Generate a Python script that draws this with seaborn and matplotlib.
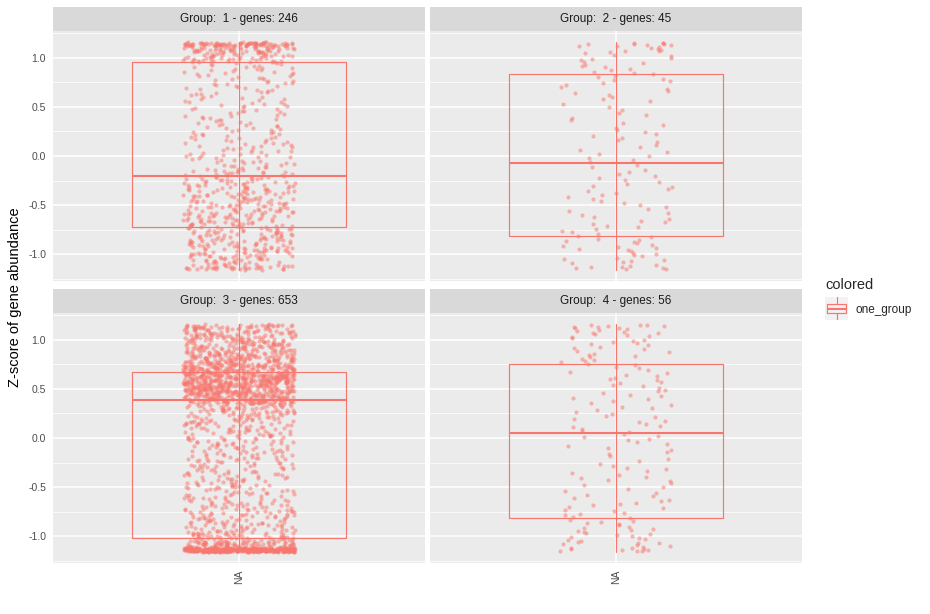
import numpy as np
import pandas as pd
import seaborn as sns
import matplotlib.pyplot as plt

# z-score bins (3 samples per gene, so values stop at +/-1.155)
bin_edges = [-1.155, -1.12, -1.05, -0.95, -0.85, -0.75, -0.65, -0.55, -0.45, -0.35,
             -0.25, -0.15, -0.05, 0.05, 0.15, 0.25, 0.35, 0.45, 0.55, 0.65, 0.75,
             0.85, 0.95, 1.05, 1.12, 1.155]

# points per bin, bottom to top
counts_g1 = [30, 25, 42, 42, 40, 40, 40, 38, 36, 34, 28, 20, 18, 17, 16, 15, 14, 14, 14, 15, 16, 18, 50, 56, 80]
counts_g2 = [6, 6, 8, 9, 6, 6, 5, 5, 5, 5, 5, 4, 5, 4, 5, 4, 4, 3, 5, 5, 7, 7, 7, 8, 9]
counts_g3 = [380, 90, 60, 40, 38, 35, 28, 28, 28, 28, 30, 30, 32, 38, 45, 60, 140, 180, 190, 150, 110, 85, 80, 50, 35]
counts_g4 = [8, 8, 10, 9, 7, 7, 6, 5, 6, 5, 4, 5, 6, 6, 6, 5, 6, 6, 7, 6, 8, 7, 9, 8, 8]

groups = [1, 2, 3, 4]
genes = [246, 45, 653, 56]

# box statistics
box_lo = [-1.155, -1.155, -1.155, -1.155]
box_q1 = [-0.717, -0.808, -1.02, -0.81]
box_med = [-0.20, -0.07, 0.385, 0.05]
box_q3 = [0.95, 0.838, 0.667, 0.747]
box_hi = [1.155, 1.155, 1.155, 1.155]

red = "#F8766D"

rows = []
for g, counts in zip(groups, [counts_g1, counts_g2, counts_g3, counts_g4]):
    for lo, hi, n in zip(bin_edges[:-1], bin_edges[1:], counts):
        for k in range(n):
            rows.append({"group": g, "x": "NA", "z": lo + (k + 0.5) / n * (hi - lo)})
df = pd.DataFrame(rows)

sns.set_style("darkgrid", {"axes.facecolor": "#EBEBEB", "grid.color": "white"})
plt.rcParams["font.family"] = ["Liberation Sans", "DejaVu Sans"]
np.random.seed(3)

W, H = 930, 614
pw, ph = 372, 250
panels = [(53, 31), (430, 31), (53, 313), (430, 313)]

fig = plt.figure(figsize=(9.3, 6.14), dpi=100)

for i, g in enumerate(groups):
    l, t = panels[i]
    ax = fig.add_axes([l / W, 1 - (t + ph) / H, pw / W, ph / H])
    ax.set_facecolor("#EBEBEB")
    sub = df[df["group"] == g]
    sns.stripplot(data=sub, x="x", y="z", ax=ax, jitter=0.18, color=red,
                  alpha=0.5, size=3.0, linewidth=0, zorder=2)
    stats = [{"whislo": box_lo[i], "q1": box_q1[i], "med": box_med[i],
              "q3": box_q3[i], "whishi": box_hi[i]}]
    ax.bxp(stats, positions=[0], widths=0.69, showfliers=False, showcaps=False,
           manage_ticks=False,
           boxprops=dict(color=red, lw=0.85),
           medianprops=dict(color=red, lw=1.5),
           whiskerprops=dict(color=red, lw=0.85), zorder=3)
    ax.vlines(0, box_q1[i], box_q3[i], color=red, lw=0.85, zorder=3)

    ax.set_xlim(-0.6, 0.6)
    ax.set_ylim(-1.27, 1.27)
    ax.set_yticks([-1.0, -0.5, 0.0, 0.5, 1.0])
    ax.set_yticks([-1.25, -0.75, -0.25, 0.25, 0.75, 1.25], minor=True)
    ax.set_yticklabels(["-1.0", "-0.5", "0.0", "0.5", "1.0"])
    ax.set_xticks([0])
    ax.grid(True, which="major", color="white", lw=1.1)
    ax.grid(True, which="minor", axis="y", color="white", lw=0.55)
    ax.set_axisbelow(True)
    for s in ax.spines.values():
        s.set_visible(False)
    ax.set_xlabel("")
    ax.set_ylabel("")
    ax.tick_params(which="major", length=3, color="#333333", labelsize=7.5,
                   labelcolor="#4D4D4D", pad=2)
    ax.tick_params(which="minor", length=0)
    if i < 2:
        ax.tick_params(axis="x", length=0, labelbottom=False)
    else:
        ax.set_xticklabels(["NA"], rotation=90)
    if i % 2 == 1:
        ax.tick_params(axis="y", length=0, labelleft=False)

    sax = fig.add_axes([l / W, 1 - (t - 0.5) / H, pw / W, 23.5 / H])
    sax.set_facecolor("#D9D9D9")
    sax.set_xticks([])
    sax.set_yticks([])
    sax.grid(False)
    for s in sax.spines.values():
        s.set_visible(False)
    sax.text(0.5, 0.5, f"Group:  {g} - genes: {genes[i]}", ha="center", va="center",
             fontsize=8.5, color="#1A1A1A", transform=sax.transAxes)

fig.text(15 / W, 1 - 297 / H, "Z-score of gene abundance", rotation=90,
         ha="center", va="center", fontsize=10.5, color="black")

# legend
fig.text(825 / W, 1 - 285 / H, "colored", ha="left", va="center", fontsize=10.5)
kax = fig.add_axes([825 / W, 1 - 320 / H, 23 / W, 23 / H])
kax.set_facecolor("#F2F2F2")
kax.bxp([{"whislo": 0.0, "q1": 0.3, "med": 0.5, "q3": 0.7, "whishi": 1.0}],
        positions=[0.5], widths=0.8, showfliers=False, showcaps=False, manage_ticks=False,
        boxprops=dict(color=red, lw=0.85), medianprops=dict(color=red, lw=1.5),
        whiskerprops=dict(color=red, lw=0.85))
kax.set_xlim(0, 1)
kax.set_ylim(0, 1)
kax.set_xticks([])
kax.set_yticks([])
kax.grid(False)
for s in kax.spines.values():
    s.set_visible(False)
fig.text(855 / W, 1 - 310 / H, "one_group", ha="left", va="center", fontsize=8.5)

fig.savefig("out.png", dpi=100)
